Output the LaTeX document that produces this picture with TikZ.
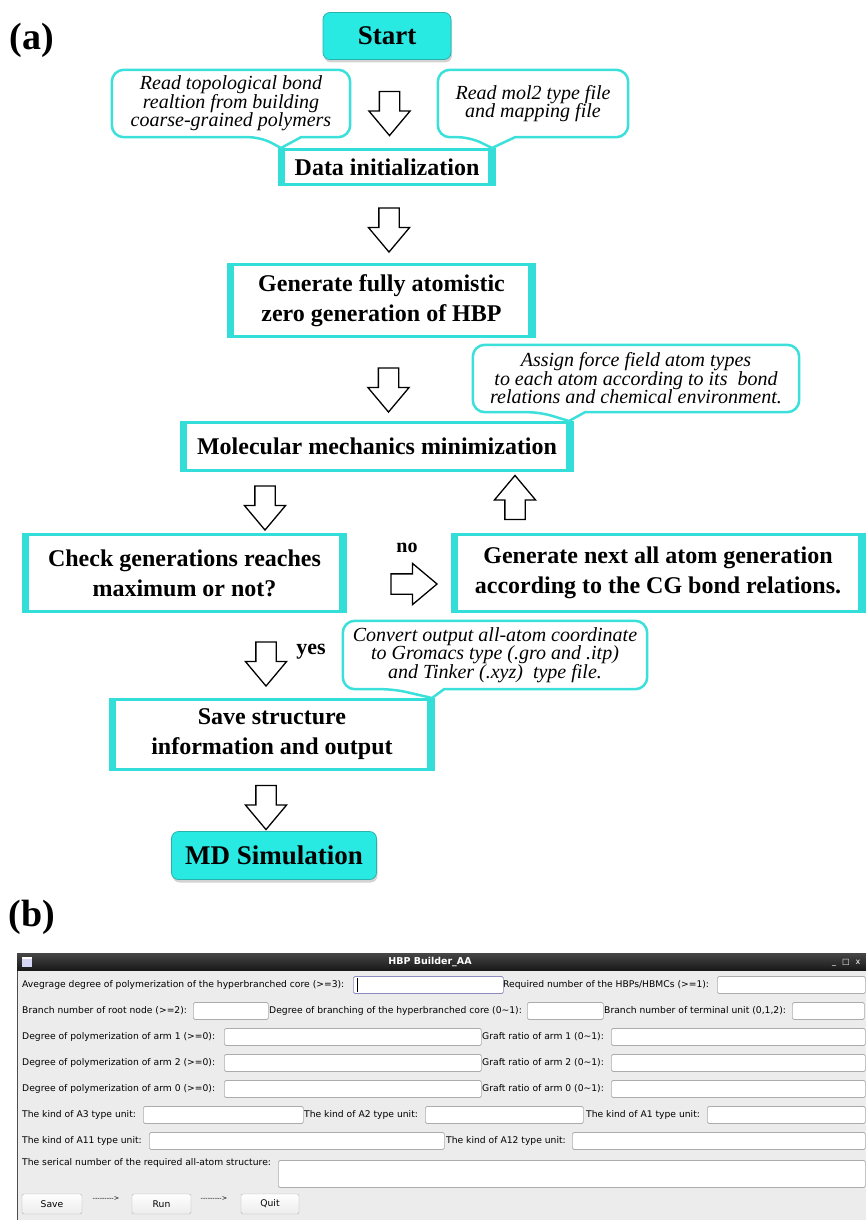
\documentclass[tikz,border=0pt]{standalone}
\usepackage{fontspec}
\setmainfont{Liberation Serif}
\newfontfamily\guifont{DejaVu Sans}
\usetikzlibrary{shapes.arrows,shadows,calc}
\definecolor{boxcyan}{RGB}{50,222,215}
\definecolor{termcyan}{RGB}{40,234,227}
\definecolor{notecyan}{RGB}{60,224,218}
\definecolor{guibg}{RGB}{236,236,236}

\begin{document}
\begin{tikzpicture}[x=1pt, y=-1pt,
  stepbox/.style={draw=boxcyan, line width=3pt, fill=white, align=center, inner sep=0pt,
    font=\fontsize{24}{30}\selectfont\bfseries},
  termbox/.style={draw=boxcyan!80!black, fill=termcyan, rounded corners=7pt, line width=.8pt,
    font=\fontsize{27}{30}\selectfont\bfseries,
    drop shadow={shadow xshift=1pt, shadow yshift=-3pt, opacity=.35}},
  note/.style={align=center, inner sep=0pt, font=\fontsize{20}{18.5}\selectfont\itshape},
  noteline/.style={draw=notecyan, line width=2.5pt, rounded corners=12pt},
  hollow/.style={single arrow, draw, line width=1.3pt, fill=white, inner sep=9.5pt,
    minimum height=44pt, single arrow head extend=10.5pt, single arrow tip angle=80},
  lbl/.style={anchor=west, inner sep=0pt, font=\guifont\fontsize{9.2}{11}\selectfont},
  entry/.style={anchor=west, draw=gray!65, fill=white, rounded corners=1.5pt, line width=.7pt,
    minimum height=17pt, inner sep=0pt},
  btn/.style={draw=gray!60, top color=white, bottom color=gray!15, rounded corners=2pt,
    minimum height=20pt, inner sep=0pt, font=\guifont\fontsize{9.2}{11}\selectfont}
]
  \useasboundingbox (0,0) rectangle (866,1220);

  % (a) flow chart
  \node[font=\fontsize{38}{38}\selectfont\bfseries] (pa) at (32,40) {(a)};
  \node[termbox, minimum width=128pt, minimum height=47pt] (start) at (387,36) {Start};

  \node[stepbox, minimum width=215pt, minimum height=35pt] (init) at (387,167) {Data initialization};
  \node[stepbox, minimum width=306pt, minimum height=72pt] (gen0) at (381.5,300.5)
    {Generate fully atomistic\\zero generation of HBP};
  \node[stepbox, minimum width=391pt, minimum height=48pt] (mm) at (377,446.5)
    {Molecular mechanics minimization};
  \node[stepbox, minimum width=322pt, minimum height=77pt] (check) at (184.5,573)
    {Check generations reaches\\maximum or not?};
  \node[stepbox, minimum width=412pt, minimum height=77pt] (next) at (658,573)
    {Generate next all atom generation\\according to the CG bond relations.};
  \node[stepbox, minimum width=323pt, minimum height=70pt] (save) at (272,734.5)
    {Save structure\\information and output};
  \node[termbox, minimum width=205pt, minimum height=48pt] (md) at (274,855.5) {MD Simulation};

  \foreach \n in {init,gen0,mm,check,next,save} {
    \fill[boxcyan] (\n.north west) rectangle ([xshift=7pt]\n.south west);
    \fill[boxcyan] (\n.north east) rectangle ([xshift=-8pt]\n.south east);
  }

  % notes
  \node[note, minimum width=238pt, minimum height=67pt] (c1) at (231,103.5)
    {Read topological bond\\realtion from building\\coarse-grained polymers};
  \node[note, minimum width=190pt, minimum height=67pt] (c2) at (533,103.5)
    {Read mol2 type file\\and mapping file};
  \node[note, minimum width=326pt, minimum height=67pt] (c3) at (636,378.5)
    {Assign force field atom types\\to each atom according to its\ \ bond\\relations and chemical environment.};
  \node[note, minimum width=304pt, minimum height=68pt] (c4) at (495,655)
    {Convert output all-atom coordinate\\to Gromacs type (.gro and .itp)\\and Tinker (.xyz)\ \ type file.};
  \foreach \n/\m/\a/\b/\t in {c1/init/261/301/281, c2/init/470/515/492,
                              c3/mm/540/585/569, c4/save/394/444/432}
    \draw[noteline] (\b,0 |- \n.south) -- (\n.south east) -- (\n.north east) -- (\n.north west)
      -- (\n.south west) -- (\a,0 |- \n.south) [sharp corners] -- (\t,0 |- \m.north) -- cycle;

  % hollow arrows
  \node[hollow, shape border rotate=270] (ar1) at (389.5,107.5) {};
  \node[hollow, shape border rotate=270] (ar2) at (389,224) {};
  \node[hollow, shape border rotate=270] (ar3) at (388.5,384) {};
  \node[hollow, shape border rotate=270] (ar4) at (265,502) {};
  \node[hollow, shape border rotate=90] (ar5) at (515,503.5) {};
  \node[hollow, minimum height=46pt] (ar6) at (408,584) {};
  \node[hollow, shape border rotate=270] (ar7) at (266,658) {};
  \node[hollow, shape border rotate=270] (ar8) at (266,801.5) {};
  \node[font=\fontsize{20}{20}\selectfont\bfseries] (no) at (407,548) {no};
  \node[font=\fontsize{22}{22}\selectfont\bfseries] (yes) at (311,652) {yes};

  % (b) window
  \node[font=\fontsize{38}{38}\selectfont\bfseries] (pb) at (32,917) {(b)};
  \fill[guibg] (17,970) rectangle (866,1220);
  \draw[gray!60!black, line width=.8pt] (17,970) -- (17,1220);
  \shade[top color=gray!55!black, bottom color=black!90] (17,953) rectangle (866,970);
  \fill[gray!35!blue!20] (22,957) rectangle (32,967);
  \fill[white] (22,957) rectangle (32,959);
  \node[font=\guifont\bfseries\fontsize{9.5}{11}\selectfont, text=white] (title) at (430,962)
    {HBP Builder\_AA};
  \node[anchor=east, font=\guifont\fontsize{8}{9}\selectfont, text=white] (ctrl) at (864,963)
    {\_\hspace{6pt}□\hspace{6pt}x};

  \node[lbl] (l11) at (22,985) {Avegrage degree of polymerization of the hyperbranched core (>=3):};
  \node[entry, minimum width=150pt, draw=blue!30!gray!70] (e11) at (353,985) {};
  \draw[line width=.6pt] (357,978) -- (357,992);
  \node[lbl] (l12) at (503,985) {Required number of the HBPs/HBMCs (>=1):};
  \node[entry, minimum width=148pt] (e12) at (717,985) {};

  \node[lbl] (l21) at (22,1011) {Branch number of root node (>=2):};
  \node[entry, minimum width=75pt] (e21) at (193,1011) {};
  \node[lbl] (l22) at (269,1011) {Degree of branching of the hyperbranched core (0\textasciitilde1):};
  \node[entry, minimum width=76pt] (e22) at (527,1011) {};
  \node[lbl] (l23) at (604,1011) {Branch number of terminal unit (0,1,2):};
  \node[entry, minimum width=72pt] (e23) at (792,1011) {};

  \foreach \k/\y in {1/1037, 2/1063, 0/1089} {
    \node[lbl] (d\k) at (22,\y) {Degree of polymerization of arm \k\ (>=0):};
    \node[entry, minimum width=257pt] (ed\k) at (224,\y) {};
    \node[lbl] (g\k) at (482,\y) {Graft ratio of arm \k\ (0\textasciitilde1):};
    \node[entry, minimum width=254pt] (eg\k) at (611,\y) {};
  }

  \node[lbl] (l61) at (22,1115) {The kind of A3 type unit:};
  \node[entry, minimum width=160pt] (e61) at (143,1115) {};
  \node[lbl] (l62) at (304,1115) {The kind of A2 type unit:};
  \node[entry, minimum width=158pt] (e62) at (425,1115) {};
  \node[lbl] (l63) at (586,1115) {The kind of A1 type unit:};
  \node[entry, minimum width=158pt] (e63) at (707,1115) {};

  \node[lbl] (l71) at (22,1141) {The kind of A11 type unit:};
  \node[entry, minimum width=295pt] (e71) at (149,1141) {};
  \node[lbl] (l72) at (446,1141) {The kind of A12 type unit:};
  \node[entry, minimum width=293pt] (e72) at (572,1141) {};

  \node[lbl] (l81) at (22,1163) {The serical number of the required all-atom structure:};
  \node[entry, minimum width=587pt, minimum height=27pt] (e81) at (278,1174) {};

  \node[btn, minimum width=60pt] (bsave) at (52,1204) {Save};
  \node[font=\guifont\fontsize{6.5}{7}\selectfont] (dash1) at (106,1199) {-{}-{}-{}-{}-{}-{}-{}-{}-{}>};
  \node[btn, minimum width=59pt] (brun) at (161.5,1204) {Run};
  \node[font=\guifont\fontsize{6.5}{7}\selectfont] (dash2) at (214,1199) {-{}-{}-{}-{}-{}-{}-{}-{}-{}>};
  \node[btn, minimum width=58pt] (bquit) at (270,1204) {Quit};
\end{tikzpicture}
\end{document}
